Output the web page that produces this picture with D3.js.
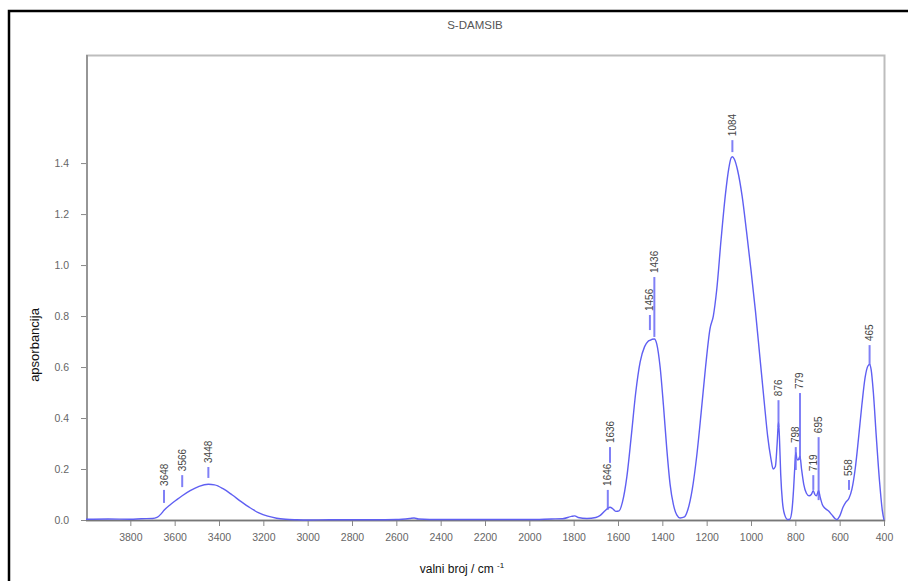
<!DOCTYPE html>
<html><head><meta charset="utf-8">
<script src="https://cdn.jsdelivr.net/npm/d3@7"></script>
<style>body{margin:0;background:#fff;}svg{display:block;}</style>
</head><body>
<script>
// ---- data ----
const titleText = "S-DAMSIB";
const xTicks = [3800,3600,3400,3200,3000,2800,2600,2400,2200,2000,1800,1600,1400,1200,1000,800,600,400];
const yTicks = [0.0,0.2,0.4,0.6,0.8,1.0,1.2,1.4];
const wavenumber = [4000,3900,3800,3750,3700,3680,3660,3648,3620,3590,3566,3530,3490,3448,3420,3380,3340,3300,3260,3220,3180,3140,3100,3050,3000,2900,2800,2700,2600,2540,2520,2500,2400,2200,2000,1900,1850,1810,1795,1780,1740,1700,1680,1660,1646,1636,1625,1610,1595,1580,1560,1540,1520,1500,1480,1465,1456,1436,1425,1410,1395,1380,1365,1350,1335,1320,1300,1285,1265,1245,1225,1205,1185,1170,1155,1135,1115,1100,1090,1084,1075,1060,1040,1020,1000,980,960,940,925,910,900,890,882,876,872,866,858,848,835,825,815,808,803,798,793,788,779,772,762,750,738,728,719,712,705,695,688,678,665,650,635,620,612,600,585,572,558,545,530,515,500,485,472,465,458,448,435,420,408,400];
const absorbance = [0.003,0.004,0.003,0.005,0.006,0.01,0.025,0.038,0.06,0.08,0.095,0.115,0.132,0.14,0.138,0.122,0.098,0.072,0.048,0.028,0.015,0.007,0.003,0.001,0.0,0.001,0.001,0.001,0.002,0.006,0.008,0.004,0.002,0.002,0.002,0.004,0.005,0.014,0.016,0.01,0.006,0.01,0.018,0.035,0.046,0.05,0.045,0.034,0.036,0.07,0.17,0.33,0.5,0.62,0.68,0.70,0.705,0.71,0.69,0.6,0.45,0.28,0.14,0.06,0.02,0.008,0.012,0.04,0.12,0.25,0.42,0.6,0.75,0.8,0.9,1.1,1.28,1.38,1.42,1.425,1.415,1.37,1.27,1.13,0.98,0.82,0.64,0.46,0.33,0.24,0.2,0.21,0.3,0.385,0.33,0.18,0.07,0.02,0.002,0.003,0.04,0.12,0.2,0.265,0.24,0.235,0.25,0.2,0.14,0.105,0.095,0.1,0.115,0.1,0.095,0.115,0.09,0.06,0.045,0.035,0.02,0.005,0.002,0.015,0.05,0.07,0.085,0.12,0.2,0.32,0.45,0.56,0.605,0.61,0.59,0.5,0.33,0.15,0.04,0.0];
const peakLabels = ["3648","3566","3448","1646","1636","1456","1436","1084","876","798","779","719","695","558","465"];
const peakWn = [3648,3566,3448,1646,1636,1456,1436,1084,876,798,779,719,695,558,465];
const markerTop = [0.118,0.176,0.208,0.118,0.286,0.804,0.953,1.49,0.47,0.286,0.498,0.176,0.325,0.157,0.686];
const markerBottom = [0.067,0.129,0.165,0.04,0.224,0.745,0.718,1.443,0.365,0.196,0.235,0.118,0.078,0.118,0.608];

// ---- chart ----
const W = 908, H = 581;
const svg = d3.select("body").append("svg").attr("width", W).attr("height", H);

const x = d3.scaleLinear().domain([4000, 400]).range([86, 884]);
const y = d3.scaleLinear().domain([0, 1.82]).range([520, 56]);

// outer black border
svg.append("rect").attr("x", 9).attr("y", 11).attr("width", 920).attr("height", 600)
  .attr("fill", "none").attr("stroke", "#000").attr("stroke-width", 2.5);

// title
svg.append("text").attr("x", 475).attr("y", 29).attr("text-anchor", "middle")
  .attr("font-family", "Liberation Sans Narrow, Liberation Sans, Arial").attr("font-size", 11.5)
  .attr("fill", "#555").text(titleText);

// plot frame
svg.append("rect").attr("x", 87).attr("y", 55.5).attr("width", 797.5).attr("height", 465)
  .attr("fill", "#fff").attr("stroke", "#bdbdbd").attr("stroke-width", 2);
svg.append("line").attr("x1", 87).attr("x2", 87).attr("y1", 55).attr("y2", 521)
  .attr("stroke", "#8c8c8c").attr("stroke-width", 1.6);
svg.append("line").attr("x1", 86).attr("x2", 885).attr("y1", 520.5).attr("y2", 520.5)
  .attr("stroke", "#777").attr("stroke-width", 1.6);

// axes
const xAxis = d3.axisBottom(x).tickValues(xTicks).tickSize(5).tickSizeOuter(0).tickFormat(d3.format("d"));
const gx = svg.append("g").attr("transform", "translate(0,521)").call(xAxis);
gx.select(".domain").remove();
gx.selectAll("line").attr("stroke", "#888");
gx.selectAll("text").attr("fill", "#666").attr("font-size", 10.5)
  .attr("font-family", "Liberation Sans Narrow, Liberation Sans, Arial").attr("dy", "1.1em");

const yAxis = d3.axisLeft(y).tickValues(yTicks).tickSize(5).tickFormat(d3.format(".1f"));
const gy = svg.append("g").attr("transform", "translate(86,0)").call(yAxis);
gy.select(".domain").remove();
gy.selectAll("line").attr("stroke", "#888");
gy.selectAll("text").attr("fill", "#666").attr("font-size", 10.5)
  .attr("font-family", "Liberation Sans Narrow, Liberation Sans, Arial").attr("dx", "-9");

// axis titles
const xl = svg.append("text").attr("x", 462).attr("y", 573).attr("text-anchor", "middle")
  .attr("font-family", "Liberation Sans, Arial").attr("font-size", 12).attr("fill", "#111");
xl.append("tspan").text("valni broj / cm ");
xl.append("tspan").attr("font-size", 8).attr("dy", -5).text("-1");

svg.append("text").attr("transform", "translate(39,345) rotate(-90)").attr("text-anchor", "middle")
  .attr("font-family", "Liberation Sans, Arial").attr("font-size", 13).attr("fill", "#111")
  .text("apsorbancija");

// spectrum
const data = wavenumber.map((w, i) => [w, absorbance[i]]);
const line = d3.line().x(d => x(d[0])).y(d => y(d[1])).curve(d3.curveMonotoneX);
svg.append("path").datum(data).attr("d", line).attr("fill", "none")
  .attr("stroke", "#5f5ff2").attr("stroke-width", 1.4);

// peak markers and labels
const peaks = peakWn.map((w, i) => ({w, t: peakLabels[i], top: markerTop[i], bot: markerBottom[i]}));
svg.append("g").selectAll("line").data(peaks).join("line")
  .attr("x1", d => x(d.w)).attr("x2", d => x(d.w))
  .attr("y1", d => y(d.top)).attr("y2", d => y(d.bot))
  .attr("stroke", "#6b6bf5").attr("stroke-width", 2).attr("opacity", 0.85);
svg.append("g").selectAll("text").data(peaks).join("text")
  .attr("transform", d => `translate(${x(d.w) + 3.5},${y(d.top) - 4}) rotate(-90)`)
  .attr("font-family", "Liberation Sans Narrow, Liberation Sans, Arial").attr("font-size", 10)
  .attr("fill", "#444").text(d => d.t);
</script>
</body></html>
